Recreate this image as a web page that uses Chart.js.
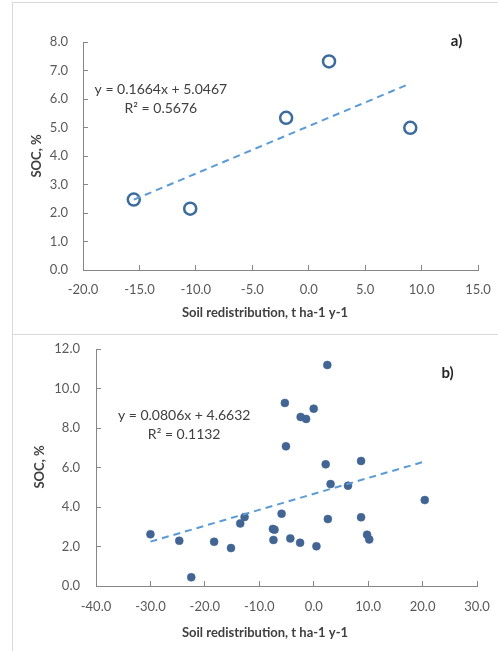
<!DOCTYPE html>
<html>
<head>
<meta charset="utf-8">
<script src="https://cdn.jsdelivr.net/npm/chart.js@4.4.1/dist/chart.umd.min.js"></script>
<style>
  body { margin: 0; background: #fff; width: 498px; height: 651px; overflow: hidden; position: relative; }
  .panel { position: absolute; left: 12px; width: 486px; border-left: 1px solid #d9d9d9; }
  #pa { top: 2px; height: 331px; border-top: 1px solid #d9d9d9; border-bottom: 1px solid #d9d9d9; }
  #pb { top: 334px; height: 317px; }
  canvas { position: absolute; left: 0; top: 0; }
</style>
</head>
<body>
<div class="panel" id="pa"><canvas id="chartA" width="485" height="330"></canvas></div>
<div class="panel" id="pb"><canvas id="chartB" width="485" height="317"></canvas></div>
<script>
// panel a) - soil redistribution vs SOC
const redistA = [-15.5, -10.5, -2.0, 1.8, 9.0];
const socA = [2.47, 2.15, 5.34, 7.32, 4.99];
const slopeA = 0.1664, interceptA = 5.0467;
const eqA = ["y = 0.1664x + 5.0467", "R\u00b2 = 0.5676"];

// panel b)
const redistB = [-30.0, -24.7, -22.5, -18.3, -15.2, -13.5, -12.7, -7.5, -7.2, -7.4,
  -5.9, -5.3, -5.1, -4.3, -2.5, -2.4, -1.4, 0.0, 0.5, 2.2,
  2.5, 2.6, 3.1, 6.3, 8.7, 8.7, 9.8, 10.2, 20.4];
const socB = [2.62, 2.29, 0.44, 2.24, 1.92, 3.17, 3.49, 2.89, 2.85, 2.33,
  3.66, 9.27, 7.07, 2.41, 2.19, 8.56, 8.46, 8.98, 2.01, 6.16,
  11.19, 3.39, 5.16, 5.08, 3.48, 6.33, 2.60, 2.36, 4.35];
const slopeB = 0.0806, interceptB = 4.6632;
const eqB = ["y = 0.0806x + 4.6632", "R\u00b2 = 0.1132"];

const xTitle = "Soil redistribution, t ha-1 y-1";
const yTitle = "SOC, %";

const FONT = "Lato";
const AXIS = "#868686";

// draws equation, panel letter and axis titles
const notesPlugin = {
  id: "notes",
  afterDraw(chart, args, opts) {
    const ctx = chart.ctx;
    const xs = chart.scales.x, ys = chart.scales.y;
    ctx.save();
    ctx.textAlign = "center";
    ctx.textBaseline = "middle";
    for (const t of opts.items) {
      ctx.font = t.font;
      ctx.fillStyle = t.color || "#404040";
      const px = t.data ? xs.getPixelForValue(t.x) : t.x;
      const py = t.data ? ys.getPixelForValue(t.y) : t.y;
      ctx.save();
      ctx.translate(px, py);
      if (t.rot) ctx.rotate(-Math.PI / 2);
      ctx.fillText(t.text, 0, 0);
      ctx.restore();
    }
    ctx.restore();
  }
};

function trend(xs, m, b) {
  const lo = Math.min(...xs), hi = Math.max(...xs);
  return [{ x: lo, y: m * lo + b }, { x: hi, y: m * hi + b }];
}

// keep the plot area where the layout padding puts it
function noOverflow(s) {
  s.paddingLeft = 0; s.paddingRight = 0;
  s.paddingTop = 0; s.paddingBottom = 0;
}

function makeChart(id, cfg) {
  const pts = cfg.xs.map((x, i) => ({ x: x, y: cfg.ys[i] }));
  return new Chart(document.getElementById(id), {
    type: "scatter",
    data: {
      datasets: [
        {
          type: "line",
          data: trend(cfg.xs, cfg.m, cfg.b),
          borderColor: "#5B9BD5",
          borderWidth: 2,
          borderDash: [7, 5],
          pointRadius: 0,
          fill: false
        },
        Object.assign({ data: pts }, cfg.point)
      ]
    },
    options: {
      responsive: false,
      animation: false,
      layout: { padding: { left: 0, top: cfg.top, right: cfg.right, bottom: 0 } },
      plugins: {
        legend: { display: false },
        tooltip: { enabled: false },
        notes: { items: cfg.notes }
      },
      scales: {
        x: {
          type: "linear",
          min: cfg.xmin, max: cfg.xmax,
          border: { color: AXIS, width: 1 },
          grid: { drawOnChartArea: false, tickLength: -5, color: AXIS },
          ticks: {
            stepSize: cfg.xstep, autoSkip: false, maxRotation: 0,
            padding: cfg.xpad, color: "#595959",
            font: { family: FONT, size: 13 },
            callback: v => v.toFixed(1)
          },
          afterFit(s) { s.height = cfg.bottom; noOverflow(s); }
        },
        y: {
          min: 0, max: cfg.ymax,
          border: { color: AXIS, width: 1 },
          grid: { drawOnChartArea: false, tickLength: -5, color: AXIS },
          ticks: {
            stepSize: cfg.ystep, padding: cfg.ypad, color: "#595959",
            font: { family: FONT, size: 13 },
            callback: v => v.toFixed(1)
          },
          afterFit(s) { s.width = cfg.left; noOverflow(s); }
        }
      }
    },
    plugins: [notesPlugin]
  });
}

makeChart("chartA", {
  xs: redistA, ys: socA, m: slopeA, b: interceptA,
  xmin: -20, xmax: 15, xstep: 5, ymax: 8, ystep: 1,
  left: 70, right: 20, top: 39, bottom: 63, xpad: 17, ypad: 20,
  point: {
    pointRadius: 6, pointBorderWidth: 2.5,
    borderColor: "#3C6B9E", backgroundColor: "rgba(255,255,255,0)"
  },
  notes: [
    { data: true, x: -13.1, y: 6.32, text: eqA[0], font: "14px " + FONT },
    { data: true, x: -13.1, y: 5.68, text: eqA[1], font: "14px " + FONT },
    { data: true, x: 13.1, y: 8.04, text: "a)", font: "bold 15px " + FONT, color: "#262626" },
    { x: 252, y: 310, text: xTitle, font: "bold 13px " + FONT },
    { x: 24, y: 153, text: yTitle, font: "bold 13px " + FONT, rot: true }
  ]
});

makeChart("chartB", {
  xs: redistB, ys: socB, m: slopeB, b: interceptB,
  xmin: -40, xmax: 30, xstep: 10, ymax: 12, ystep: 2,
  left: 83, right: 21, top: 15, bottom: 65, xpad: 18, ypad: 21,
  point: {
    pointRadius: 4, pointBorderWidth: 0.5,
    borderColor: "#3F6392", backgroundColor: "#426594"
  },
  notes: [
    { data: true, x: -23.8, y: 8.61, text: eqB[0], font: "14px " + FONT },
    { data: true, x: -23.8, y: 7.65, text: eqB[1], font: "14px " + FONT },
    { data: true, x: 24.6, y: 10.78, text: "b)", font: "bold 15px " + FONT, color: "#262626" },
    { x: 252, y: 299, text: xTitle, font: "bold 13px " + FONT },
    { x: 27, y: 133, text: yTitle, font: "bold 13px " + FONT, rot: true }
  ]
});
</script>
</body>
</html>
